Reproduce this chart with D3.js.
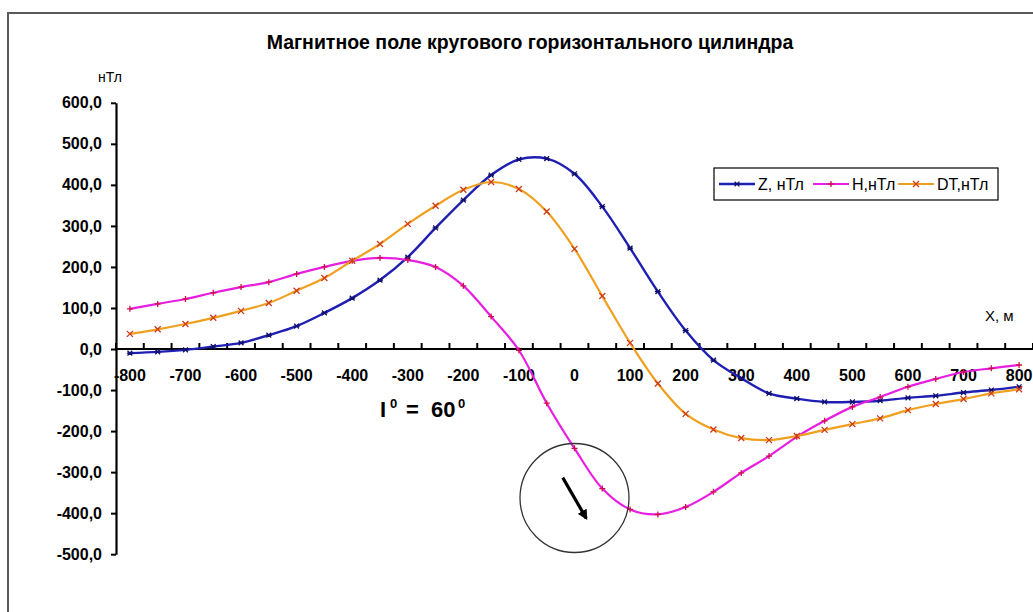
<!DOCTYPE html>
<html>
<head>
<meta charset="utf-8">
<script src="https://cdn.jsdelivr.net/npm/d3@7/dist/d3.min.js"></script>
<style>
  html, body { margin: 0; padding: 0; background: #fff; }
  svg { display: block; font-family: "Liberation Sans", Arial, sans-serif; }
</style>
</head>
<body>
<svg id="chart" width="1033" height="612"></svg>
<script>
// Profile positions, m
const positions = [-800, -750, -700, -650, -600, -550, -500, -450, -400, -350, -300,
  -250, -200, -150, -100, -50, 0, 50, 100, 150, 200, 250, 300, 350, 400, 450, 500,
  550, 600, 650, 700, 750, 800];

// Vertical component Z, nT
const zValues = [-10, -7, -2, 6, 15, 34, 56, 88, 124, 168, 224,
  295, 363, 424, 462, 464, 427, 347, 246, 140, 45, -27, -71, -108, -121, -129, -129,
  -126, -119, -114, -106, -100, -92];

// Horizontal component H, nT
const hValues = [98, 110, 122, 137, 151, 163, 183, 200, 215, 222, 217,
  200, 154, 79, -3, -132, -242, -340, -391, -403, -385, -348, -302, -261, -214, -175, -141,
  -117, -92, -73, -56, -47, -39];

// Total field anomaly DT, nT
const dtValues = [37, 48, 61, 76, 93, 112, 142, 173, 215, 256, 305,
  349, 388, 407, 390, 335, 244, 129, 15, -84, -158, -196, -217, -222, -212, -197, -183,
  -169, -149, -134, -122, -108, -98];

const yTickValues = [-500, -400, -300, -200, -100, 0, 100, 200, 300, 400, 500, 600];
const yTickLabels = ["-500,0", "-400,0", "-300,0", "-200,0", "-100,0", "0,0",
  "100,0", "200,0", "300,0", "400,0", "500,0", "600,0"];
const xTickLabels = ["-800", "-700", "-600", "-500", "-400", "-300", "-200", "-100",
  "0", "100", "200", "300", "400", "500", "600", "700", "800"];

const seriesNames = ["Z, нТл", "Н,нТл", "DT,нТл"];
const inclinationDeg = 60;

const svg = d3.select("#chart");

// outer chart frame
svg.append("rect")
  .attr("x", 8).attr("y", 13).attr("width", 1060).attr("height", 640)
  .attr("fill", "#fff").attr("stroke", "#5a5a5a").attr("stroke-width", 2);

const plotLeft = 116, plotRight = 1033;
const x = d3.scalePoint().domain(positions).range([plotLeft, plotRight]).padding(0.5);
const step = x.step();
const y = d3.scaleLinear().domain([-500, 600]).range([554.2, 102.8]);

// title
svg.append("text")
  .attr("x", 530).attr("y", 49)
  .attr("text-anchor", "middle")
  .attr("font-size", 19.5).attr("font-weight", "bold")
  .text("Магнитное поле кругового горизонтального цилиндра");

// y axis
const yAxis = d3.axisLeft(y)
  .tickValues(yTickValues)
  .tickFormat((d, i) => yTickLabels[i])
  .tickSize(5).tickSizeOuter(0).tickPadding(9);
const gy = svg.append("g").attr("transform", `translate(${plotLeft},0)`).call(yAxis);
gy.select(".domain").attr("stroke", "#000").attr("stroke-width", 2.2);
gy.selectAll(".tick line").attr("stroke", "#000").attr("stroke-width", 2);
gy.selectAll(".tick text")
  .attr("font-size", 16).attr("font-weight", "bold")
  .attr("font-family", "'Liberation Sans', Arial, sans-serif")
  .attr("fill", "#000");

svg.append("text")
  .attr("x", 98).attr("y", 82)
  .attr("font-size", 14)
  .text("нТл");

// x axis along zero line, ticks between categories
const y0 = y(0);
const gx = svg.append("g");
gx.append("line")
  .attr("x1", plotLeft).attr("x2", plotRight)
  .attr("y1", y0).attr("y2", y0)
  .attr("stroke", "#000").attr("stroke-width", 2.2);
gx.selectAll("line.tk")
  .data(d3.range(positions.length + 1))
  .join("line").attr("class", "tk")
  .attr("x1", i => plotLeft + i * step).attr("x2", i => plotLeft + i * step)
  .attr("y1", y0 - 6).attr("y2", y0 + 1)
  .attr("stroke", "#000").attr("stroke-width", 2);
gx.selectAll("text")
  .data(xTickLabels)
  .join("text")
  .attr("x", d => x(+d))
  .attr("y", y0 + 32)
  .attr("text-anchor", "middle")
  .attr("font-size", 16).attr("font-weight", "bold")
  .text(d => d);

svg.append("text")
  .attr("x", 985).attr("y", 321)
  .attr("font-size", 15)
  .text("X, м");

// series
const series = [
  { name: seriesNames[0], values: zValues, color: "#1f1fb4", width: 2.4, marker: "star", mcolor: "#101070" },
  { name: seriesNames[1], values: hValues, color: "#e81ee0", width: 2.2, marker: "plus", mcolor: "#d0104a" },
  { name: seriesNames[2], values: dtValues, color: "#f0a020", width: 2.2, marker: "cross", mcolor: "#cc3a1a" }
];

function markerPath(type, s) {
  if (type === "plus") return `M${-s},0H${s}M0,${-s}V${s}`;
  if (type === "cross") return `M${-s},${-s}L${s},${s}M${-s},${s}L${s},${-s}`;
  return `M${-s},0H${s}M${-s * 0.8},${-s * 0.8}L${s * 0.8},${s * 0.8}M${-s * 0.8},${s * 0.8}L${s * 0.8},${-s * 0.8}`;
}

const line = d3.line()
  .x((d, i) => x(positions[i]))
  .y(d => y(d))
  .curve(d3.curveCatmullRom.alpha(0.5));

series.forEach(s => {
  svg.append("path")
    .attr("d", line(s.values))
    .attr("fill", "none")
    .attr("stroke", s.color)
    .attr("stroke-width", s.width)
    .attr("stroke-linejoin", "round");
  svg.append("g").selectAll("path")
    .data(s.values)
    .join("path")
    .attr("transform", (d, i) => `translate(${x(positions[i])},${y(d)})`)
    .attr("d", markerPath(s.marker, 3))
    .attr("fill", "none")
    .attr("stroke", s.mcolor)
    .attr("stroke-width", 1.3);
});

// legend
const legend = svg.append("g");
legend.append("rect")
  .attr("x", 714).attr("y", 168).attr("width", 284).attr("height", 32)
  .attr("fill", "#fff").attr("stroke", "#000").attr("stroke-width", 1.2);
const legendX = [719, 813, 898];
series.forEach((s, i) => {
  const lx = legendX[i];
  legend.append("line")
    .attr("x1", lx).attr("x2", lx + 36).attr("y1", 184).attr("y2", 184)
    .attr("stroke", s.color).attr("stroke-width", s.width);
  legend.append("path")
    .attr("transform", `translate(${lx + 18},184)`)
    .attr("d", markerPath(s.marker, 3))
    .attr("stroke", s.mcolor).attr("stroke-width", 1.3).attr("fill", "none");
  legend.append("text")
    .attr("x", lx + 39).attr("y", 190)
    .attr("font-size", 16)
    .text(s.name);
});

// inclination label
const lab = svg.append("g").attr("font-weight", "bold").attr("fill", "#000");
lab.append("text").attr("x", 380).attr("y", 417).attr("font-size", 22).text("I");
lab.append("text").attr("x", 390).attr("y", 408).attr("font-size", 13).text("0");
lab.append("text").attr("x", 406).attr("y", 417).attr("font-size", 22).text("=");
lab.append("text").attr("x", 431).attr("y", 417).attr("font-size", 22).text(String(inclinationDeg));
lab.append("text").attr("x", 458).attr("y", 408).attr("font-size", 13).text("0");

// cylinder cross-section with magnetization vector
const cx = x(0), cy = y(-363), r = 54.5;
svg.append("circle")
  .attr("cx", cx).attr("cy", cy).attr("r", r)
  .attr("fill", "none").attr("stroke", "#333").attr("stroke-width", 1.3);

svg.append("defs").append("marker")
  .attr("id", "arrowHead")
  .attr("viewBox", "0 0 10 10").attr("refX", 8).attr("refY", 5)
  .attr("markerWidth", 3.2).attr("markerHeight", 3.2)
  .attr("markerUnits", "strokeWidth")
  .attr("orient", "auto")
  .append("path").attr("d", "M0,0L10,5L0,10Z").attr("fill", "#000");

const ang = inclinationDeg * Math.PI / 180, half = 23.5;
svg.append("line")
  .attr("x1", cx - half * Math.cos(ang)).attr("y1", cy - half * Math.sin(ang))
  .attr("x2", cx + half * Math.cos(ang)).attr("y2", cy + half * Math.sin(ang))
  .attr("stroke", "#000").attr("stroke-width", 3.2)
  .attr("marker-end", "url(#arrowHead)");
</script>
</body>
</html>
